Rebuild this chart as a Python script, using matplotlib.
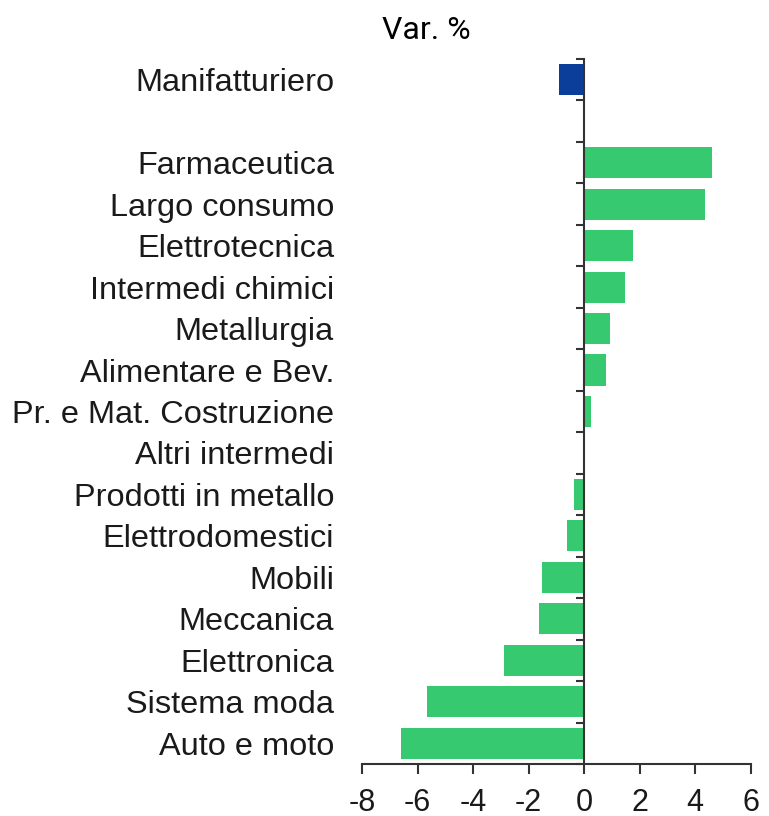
import matplotlib.pyplot as plt
import numpy as np

plt.rcParams['font.family'] = ['Liberation Sans', 'DejaVu Sans']

categorie = ['Manifatturiero', '', 'Farmaceutica', 'Largo consumo', 'Elettrotecnica',
             'Intermedi chimici', 'Metallurgia', 'Alimentare e Bev.',
             'Pr. e Mat. Costruzione', 'Altri intermedi', 'Prodotti in metallo',
             'Elettrodomestici', 'Mobili', 'Meccanica', 'Elettronica',
             'Sistema moda', 'Auto e moto']
valori = [-0.9, np.nan, 4.6, 4.35, 1.76, 1.48, 0.94, 0.79, 0.26, 0.0, -0.35,
          -0.6, -1.52, -1.62, -2.9, -5.64, -6.6]
xticks = [-8, -6, -4, -2, 0, 2, 4, 6]

colori = ['#0a3e9a'] + ['#37c970'] * (len(categorie) - 1)

fig = plt.figure(figsize=(7.69, 8.16), dpi=100)
ax = fig.add_axes([0.4707, 0.0637, 0.5055, 0.8640])

pos = np.arange(len(categorie))
ax.barh(pos, np.nan_to_num(valori), height=0.75, color=colori)

ax.set_xlim(-8, 6)
ax.set_ylim(len(categorie) - 0.5, -0.5)

# asse y sullo zero
ax.spines['left'].set_position(('data', 0))
ax.spines['right'].set_visible(False)
ax.spines['top'].set_visible(False)
for s in ['left', 'bottom']:
    ax.spines[s].set_color('#333333')
    ax.spines[s].set_linewidth(1.5)

# etichette categorie (no ticks), ticks ai bordi come minor
labels_pos = [p for p, c in zip(pos, categorie) if c]
ax.set_yticks(labels_pos)
ax.set_yticklabels([c for c in categorie if c], fontsize=23.4, color='#1a1a1a')
ax.tick_params(axis='y', which='major', length=0, pad=180)
ax.set_yticks(np.arange(-0.5, len(categorie)), minor=True)
ax.tick_params(axis='y', which='minor', length=6, width=1.5, color='#333333')

ax.set_xticks(xticks)
ax.set_xticklabels([str(t) for t in xticks], fontsize=22, color='#1a1a1a')
ax.tick_params(axis='x', length=7, width=1.5, color='#333333', pad=10)

fig.text(0.555, 0.963, 'Var. %', ha='center', va='center', fontsize=23,
         family=['Liberation Sans Narrow', 'Roboto', 'DejaVu Sans'])

plt.savefig('out.png', dpi=100)
